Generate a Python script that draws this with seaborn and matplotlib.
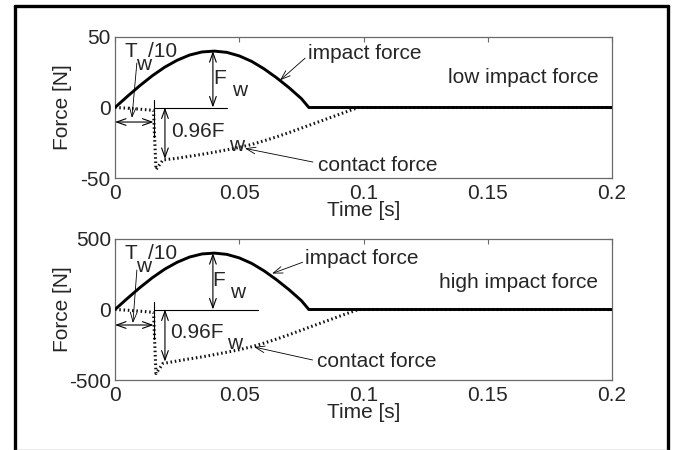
import matplotlib
matplotlib.use("Agg")
import matplotlib.pyplot as plt
from matplotlib.lines import Line2D
import seaborn as sns

sns.set_style("white")
plt.rcParams["font.family"] = ["Liberation Sans", "DejaVu Sans"]
plt.rcParams["font.size"] = 15

# impact force: half sine pulse, then zero
t_impact = [0.0, 0.005, 0.01, 0.015, 0.02, 0.025, 0.03, 0.035, 0.04, 0.045,
            0.05, 0.055, 0.06, 0.065, 0.07, 0.075, 0.078, 0.2]
impact_low = [0.0, 7.9, 15.5, 22.5, 28.6, 33.5, 37.2, 39.4, 40.0, 39.1,
              36.6, 32.7, 27.4, 21.1, 14.1, 6.3, 0.0, 0.0]
impact_high = [0.0, 79, 155, 225, 286, 335, 372, 394, 400, 391,
               366, 327, 274, 211, 141, 63, 0.0, 0.0]

# contact force: small dip, sudden drop, then recovery to zero
t_contact = [0.0, 0.005, 0.01, 0.0155, 0.0159, 0.0165, 0.0193, 0.025, 0.03,
             0.035, 0.04, 0.045, 0.05, 0.055, 0.06, 0.065, 0.07, 0.075,
             0.08, 0.085, 0.09, 0.095, 0.098, 0.2]
contact_low = [0.0, -0.5, -1.2, -2.0, -20.0, -44.0, -37.2, -36.0, -34.6,
               -33.2, -31.7, -30.0, -28.3, -26.2, -23.6, -20.8, -17.8, -14.6,
               -11.4, -8.2, -5.0, -1.8, 0.0, 0.0]
contact_high = [0.0, -5, -12, -20, -200, -454, -383, -365, -350,
                -336, -320, -303, -285, -264, -238, -210, -179, -147,
                -114, -82, -50, -18, 0.0, 0.0]

x_ticks = [0, 0.05, 0.1, 0.15, 0.2]
x_ticklabels = ["0", "0.05", "0.1", "0.15", "0.2"]

panels = [
    dict(impact=impact_low, contact=contact_low, lim=50,
         yticklabels=["-50", "0", "50"], title="low impact force",
         ref_end=0.045, tw=(0.004, 39.4, 0.0084, 30.5, 0.0133, 40.0),
         tw_arrow=((0.0088, 31.6), (0.0068, -7.4)), span_y=-10.3,
         fw=(0.0394, 20.9, 0.0471, 12.4), f96=(0.0225, -17.3, 0.0459, -26.6),
         f96_tip=-36.5, imp_lab=(0.0777, 38.6), imp_tail=(0.0765, 35.0),
         imp_tip=(0.0664, 19.3), con_lab=(0.0817, -40.8),
         con_tail=(0.0797, -38.7), con_tip=(0.0523, -29.0),
         title_y=21.0, vline=(5.3, -21.0)),
    dict(impact=impact_high, contact=contact_high, lim=500,
         yticklabels=["-500", "0", "500"], title="high impact force",
         ref_end=0.0575, tw=(0.004, 400, 0.0084, 305, 0.0133, 400),
         tw_arrow=((0.0088, 280), (0.0072, -96)), span_y=-110,
         fw=(0.0390, 209, 0.0463, 124), f96=(0.0221, -160, 0.0451, -238),
         f96_tip=-370, imp_lab=(0.0765, 365), imp_tail=(0.0755, 335),
         imp_tip=(0.0632, 255), con_lab=(0.0813, -372),
         con_tail=(0.0795, -358), con_tip=(0.0560, -266),
         title_y=188, vline=(53, -210)),
]

W, H = 673, 450
fig = plt.figure(figsize=(W / 100, H / 100), dpi=100)
axes_px = [(115, 37, 612, 178), (115, 239, 612, 380)]
spine_col = "#6a6a6a"
dotted = (0, (0.5, 0.9))

for (x0, y0, x1, y1), p in zip(axes_px, panels):
    ax = fig.add_axes([x0 / W, 1 - y1 / H, (x1 - x0) / W, (y1 - y0) / H])
    s = p["lim"] / 50.0

    sns.lineplot(x=t_contact, y=p["contact"], ax=ax, color="#111111",
                 linewidth=2.2, linestyle=dotted, sort=False,
                 estimator=None, zorder=2)
    sns.lineplot(x=t_impact, y=p["impact"], ax=ax, color="black",
                 linewidth=2.1, sort=False, estimator=None, zorder=3)

    ax.set_xlim(0, 0.2)
    ax.set_ylim(-p["lim"], p["lim"])
    ax.set_xticks(x_ticks)
    ax.set_xticklabels(x_ticklabels)
    ax.set_yticks([-p["lim"], 0, p["lim"]])
    ax.set_yticklabels(p["yticklabels"])
    ax.tick_params(direction="in", top=True, right=True, length=3.6,
                   width=0.8, color=spine_col, labelsize=15, pad=3)
    ax.tick_params(axis="x", pad=4)
    for sp in ax.spines.values():
        sp.set_color(spine_col)
        sp.set_linewidth(0.9)
    ax.set_xlabel("")
    ax.set_ylabel("")

    thin = dict(color="black", linewidth=0.8)
    # reference lines
    ax.plot([0.0157, p["ref_end"]], [0, 0], **thin, zorder=4)
    ax.plot([0.0157, 0.0157], list(p["vline"]), **thin, zorder=4)

    both = dict(arrowstyle="<->,head_length=0.45,head_width=0.16",
                color="black", lw=0.8, shrinkA=0, shrinkB=0)
    one = dict(arrowstyle="->,head_length=0.45,head_width=0.16",
               color="black", lw=0.6, shrinkA=0, shrinkB=0)

    ax.annotate("", xy=(0.0394, 40 * s), xytext=(0.0394, 0), arrowprops=both)
    ax.annotate("", xy=(0.0201, p["f96_tip"]), xytext=(0.0201, 0),
                arrowprops=both)
    ax.annotate("", xy=(0.0155, p["span_y"]), xytext=(0.0, p["span_y"]),
                arrowprops=both)
    ax.annotate("", xy=p["tw_arrow"][1], xytext=p["tw_arrow"][0],
                arrowprops=one)
    ax.annotate("", xy=p["imp_tip"], xytext=p["imp_tail"], arrowprops=one)
    ax.annotate("", xy=p["con_tip"], xytext=p["con_tail"], arrowprops=one)

    tk = dict(fontsize=15, va="center", ha="left")
    tw = p["tw"]
    ax.text(tw[0], tw[1], "T", **tk)
    ax.text(tw[2], tw[3], "w", **tk)
    ax.text(tw[4], tw[5], "/10", **tk)
    fw = p["fw"]
    ax.text(fw[0], fw[1], "F", **tk)
    ax.text(fw[2], fw[3], "w", **tk)
    f96 = p["f96"]
    ax.text(f96[0], f96[1], "0.96F", **tk)
    ax.text(f96[2], f96[3], "w", **tk)
    ax.text(*p["imp_lab"], "impact force", **tk)
    ax.text(*p["con_lab"], "contact force", **tk)
    ax.text(0.1945, p["title_y"], p["title"], fontsize=15, va="center",
            ha="right")

    # axis labels
    fig.text(63 / W, 1 - ((y0 + y1) / 2) / H, "Force [N]", rotation=90,
             ha="center", va="center", fontsize=15)
    fig.text(364 / W, 1 - (y1 + 23) / H, "Time [s]", ha="center",
             va="top", fontsize=15)

# outer frame
frame = dict(color="black", linewidth=2.4, transform=fig.transFigure)
fig.add_artist(Line2D([15 / W, 15 / W], [0, 1 - 6 / H], **frame))
fig.add_artist(Line2D([15 / W, 668 / W], [1 - 6 / H, 1 - 6 / H], **frame))
fig.add_artist(Line2D([668 / W, 668 / W], [0, 1 - 6 / H], **frame))
fig.add_artist(Line2D([15 / W, 668 / W], [0.5 / H, 0.5 / H], color="#a0a0a0",
                      linewidth=1.0, transform=fig.transFigure))

fig.savefig("out.png", dpi=100, facecolor="white")
